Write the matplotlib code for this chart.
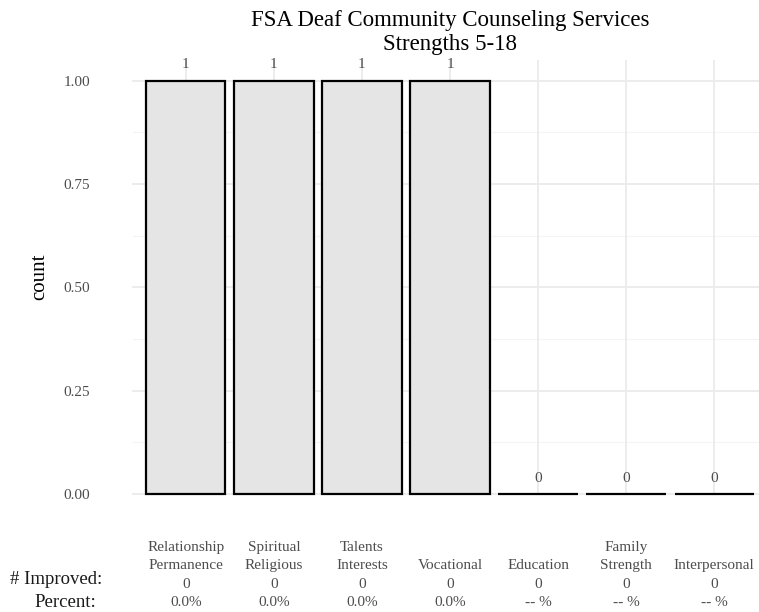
import matplotlib
matplotlib.use("Agg")
import matplotlib.pyplot as plt
import matplotlib.transforms as mtransforms
import numpy as np

# ---- data ----
categories = ["Relationship\nPermanence", "Spiritual\nReligious", "Talents\nInterests",
              "Vocational", "Education", "Family\nStrength", "Interpersonal"]
counts = [1, 1, 1, 1, 0, 0, 0]
improved = [0, 0, 0, 0, 0, 0, 0]
percent_labels = ["0.0%", "0.0%", "0.0%", "0.0%", "-- %", "-- %", "-- %"]
yticks = [0.00, 0.25, 0.50, 0.75, 1.00]
row_names = ["# Improved:", "Percent:"]
title = "FSA Deaf Community Counseling Services\nStrengths 5-18"

plt.rcParams['font.family'] = ['Liberation Serif', 'DejaVu Serif']

W, H = 759, 612
fig = plt.figure(figsize=(W / 100, H / 100), dpi=100)
left_px, right_px, top_px, bot_px = 133, 767, 60, 494
ax = fig.add_axes([left_px / W, 1 - bot_px / H, (right_px - left_px) / W, (bot_px - top_px) / H])

x = np.arange(len(categories))
ax.set_xlim(-0.6, len(categories) - 0.4)
ax.set_ylim(0, 1.05)

# grid
for yv in np.arange(0.125, 1.0, 0.25):
    ax.axhline(yv, color="#F4F4F4", lw=0.8, zorder=0)
for yv in yticks:
    ax.axhline(yv, color="#EBEBEB", lw=1.3, zorder=0, clip_on=False)
for xv in x:
    ax.axvline(xv, color="#EBEBEB", lw=1.3, zorder=0)

ax.bar(x, counts, width=0.9, color="#E5E5E5", edgecolor="black", linewidth=1.6,
       zorder=2, clip_on=False)

for xi, c in zip(x, counts):
    ax.annotate(str(c), (xi, c), xytext=(0, 11.5), textcoords="offset points",
                ha="center", va="center", fontsize=11, color="#4D4D4D", zorder=3)

for s in ax.spines.values():
    s.set_visible(False)

ax.set_yticks(yticks)
ax.set_yticklabels([f"{v:.2f}" for v in yticks], fontsize=11, color="#4D4D4D")
ax.tick_params(axis="y", length=0, pad=31)
ax.set_xticks([])
ax.set_ylabel("count", fontsize=15, labelpad=10)

# bottom labels: one text per line, lines aligned from the bottom
trans = mtransforms.blended_transform_factory(ax.transData, fig.transFigure)
line_baselines = [551, 569, 588, 606]
for xi, cat, imp, pct in zip(x, categories, improved, percent_labels):
    lines = cat.split("\n")
    if len(lines) == 1:
        lines = [""] + lines
    lines = lines + [str(imp), pct]
    for ln, yb in zip(lines, line_baselines):
        if ln:
            ax.text(xi, 1 - yb / H, ln, transform=trans, ha="center", va="baseline",
                    fontsize=11, color="#4D4D4D")

fig.text(102 / W, 1 - 584 / H, row_names[0], ha="right", va="baseline",
         fontsize=13.5, color="#1A1A1A")
fig.text(96 / W, 1 - 607 / H, row_names[1], ha="right", va="baseline",
         fontsize=13.5, color="#1A1A1A")

ax.set_title(title, fontsize=16.5, pad=7, linespacing=1.22)

fig.savefig("out.png", dpi=100)
